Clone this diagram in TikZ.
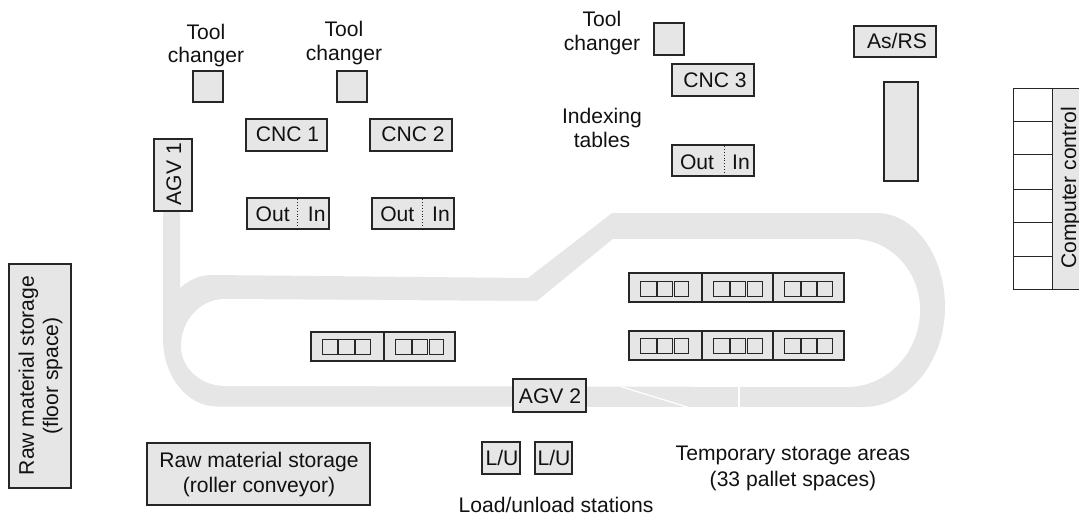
\documentclass[tikz,border=0pt]{standalone}
\usepackage{fontspec}
\setmainfont{Liberation Sans}
\definecolor{boxfill}{HTML}{E6E6E6}
\definecolor{ink}{HTML}{262626}
\definecolor{txt}{HTML}{111111}
\newcommand{\Bx}[4]{\draw[panel] (#1,#2) rectangle (#3,#4);}
\newcommand{\Sq}[3]{\draw[cell] (#1,#3) rectangle (#2,#3+15);}
\newcommand{\Tx}[3]{\node[lbl] at (#1,#2) {#3};}
\newcommand{\Vt}[3]{\node[lbl,rotate=90] at (#1,#2) {#3};}
\begin{document}
\begin{tikzpicture}[x=1pt,y=-1pt,
  panel/.style={draw=ink,fill=boxfill,line width=1.1pt},
  cell/.style={draw=ink,line width=1pt},
  lbl/.style={anchor=base,inner sep=0pt,text=txt,font=\fontsize{21.1}{24}\selectfont}]
\useasboundingbox (0,0) rectangle (1079,516);
% track
\fill[boxfill] (163,211) -- (180,211) -- (180,288)
  .. controls (188,281) and (198,275) .. (212,275)
  -- (528,278) -- (612,213) -- (877,213)
  .. controls (914,213) and (945,255) .. (945,307)
  .. controls (945,362) and (908,407) .. (863,407)
  -- (217,406.5)
  .. controls (187,406.5) and (163,376) .. (163,339) -- cycle;
\fill[white] (225,299) -- (537,301) -- (613,239) -- (853,239)
  .. controls (890,239) and (920,271) .. (920,310)
  .. controls (920,352) and (887,387) .. (847,387)
  -- (225,386)
  .. controls (201,386) and (181,368) .. (181,346)
  .. controls (181,320) and (201,299) .. (225,299) -- cycle;
\draw[white,line width=1.2pt] (622,387) -- (689,407.5);
\draw[white,line width=1.6pt] (739,386.5) -- (739,407.5);
% tool changers
\Bx{193}{71}{223}{102}
\Bx{337}{71}{367}{102}
\Bx{654}{23}{684}{55}
% machines
\Bx{246}{119}{327}{151}
\Bx{370}{119}{452}{151}
\Bx{672}{64}{754}{96}
% indexing tables
\Bx{247}{198}{329}{229}
\Bx{372}{198}{454}{229}
\Bx{672}{145}{754}{176}
\draw[ink,line width=.9pt,dotted] (297,199) -- (297,228);
\draw[ink,line width=.9pt,dotted] (422,199) -- (422,228);
\draw[ink,line width=.9pt,dotted] (724,146) -- (724,175);
% AGVs
\Bx{154}{139}{192}{211}
\Bx{513}{379}{586}{412}
% AS/RS
\Bx{854}{26}{936}{57}
\Bx{884}{82}{918}{181}
% computer control
\fill[boxfill] (1052,89) rectangle (1079,289);
\draw[cell] (1079,89) -- (1013,89) -- (1013,289) -- (1079,289);
\draw[cell] (1052,89) -- (1052,289);
\foreach \yy in {122,155,189,222,256}{\draw[cell] (1013,\yy) -- (1052,\yy);}
% raw material
\Bx{9}{264}{71}{488}
\Bx{147}{443}{370}{505}
% L/U
\Bx{482}{442}{520}{474}
\Bx{535}{442}{572}{474}
% pallet racks
\Bx{629}{273}{702}{302}\Bx{702}{273}{773}{302}\Bx{773}{273}{844}{302}
\Bx{629}{331}{702}{360}\Bx{702}{331}{773}{360}\Bx{773}{331}{844}{360}
\Bx{311}{332}{384}{361}\Bx{384}{332}{455}{361}
\foreach \yy in {281,338}{
  \foreach \xa/\xb in {640/656,657/672.5,674/688,713/729,730/745.5,747/762,784/800,801/816,817/832}{
    \Sq{\xa}{\xb}{\yy}}}
\foreach \xa/\xb in {322/337.5,338.5/354,355/370,395/411,412/427.5,429/443}{\Sq{\xa}{\xb}{339}}
% labels
\Tx{206}{40}{Tool}\Tx{206}{63}{changer}
\Tx{344}{37}{Tool}\Tx{344}{61}{changer}
\Tx{602}{27}{Tool}\Tx{602}{51}{changer}
\Tx{602}{124}{Indexing}\Tx{602}{148}{tables}
\Tx{287.5}{142}{CNC 1}\Tx{413}{142}{CNC 2}\Tx{715}{88}{CNC 3}
\Tx{272.7}{221}{Out}\Tx{316.7}{221}{In}
\Tx{397.3}{221}{Out}\Tx{441}{221}{In}
\Tx{697}{169}{Out}\Tx{741}{169}{In}
\Tx{897}{49}{As/RS}
\Tx{550}{403}{AGV 2}
\Vt{181}{174}{AGV 1}
\Vt{1076}{188}{Computer control}
\Vt{34}{375.5}{Raw material storage}
\Vt{58}{376}{(floor space)}
\Tx{259}{467}{Raw material storage}
\Tx{259}{492}{(roller conveyor)}
\Tx{502}{465}{L/U}\Tx{554}{465}{L/U}
\Tx{556}{512}{Load/unload stations}
\Tx{793}{460}{Temporary storage areas}
\Tx{793}{486}{(33 pallet spaces)}
\end{tikzpicture}
\end{document}
